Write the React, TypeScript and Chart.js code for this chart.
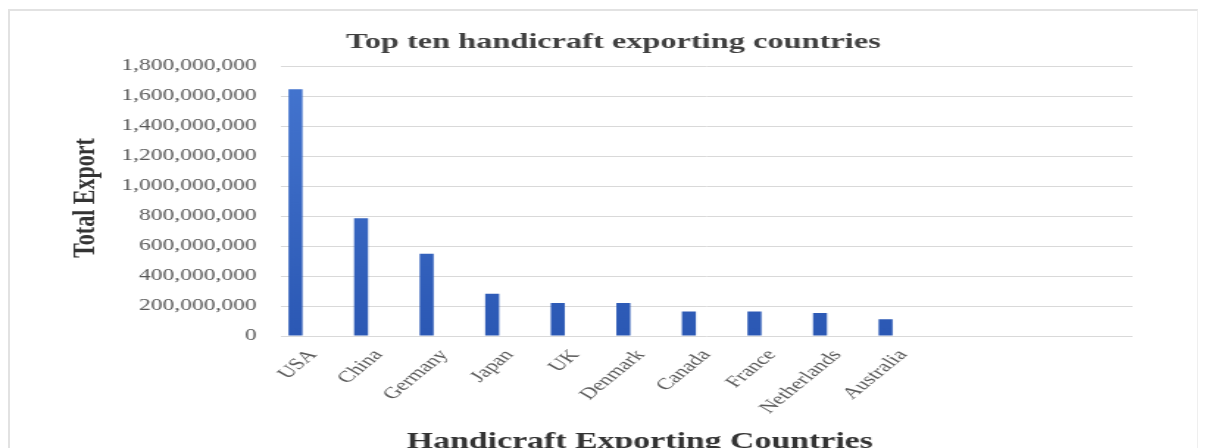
import React, { useEffect, useRef } from 'react';
import { Chart, registerables } from 'chart.js';

Chart.register(...registerables);

// ---- data ----
const countries = ['USA', 'China', 'Germany', 'Japan', 'UK', 'Denmark', 'Canada', 'France', 'Netherlands', 'Australia', '', '', ''];
const exportValues = [1645e6, 785e6, 548e6, 282e6, 220e6, 220e6, 163e6, 163e6, 153e6, 112e6, null, null, null];
const emptySeries = [null, null, null, null, null, null, null, null, null, null, null, null, null];
const yTickValues = [0, 200e6, 400e6, 600e6, 800e6, 1000e6, 1200e6, 1400e6, 1600e6, 1800e6];
const chartTitle = 'Top ten handicraft exporting countries';
const yAxisTitle = 'Total Export';
const xAxisTitle = 'Handicraft Exporting Countries';

// ---- layout (logical canvas stretched horizontally like the reference) ----
const PAGE_W = 1209;
const PAGE_H = 448;
const LOGICAL_W = 822;
const SERIF = "'Liberation Serif', 'Times New Roman', serif";

const titlesPlugin = {
  id: 'customTitles',
  afterDraw(chart: any) {
    const ctx = chart.ctx;
    ctx.save();
    ctx.fillStyle = '#404040';
    ctx.font = `bold 22px ${SERIF}`;
    ctx.textAlign = 'center';
    ctx.textBaseline = 'alphabetic';
    ctx.fillText(chartTitle, 417, 48);

    ctx.fillStyle = '#333333';
    ctx.font = `bold 23px ${SERIF}`;
    ctx.fillText(xAxisTitle, 435, 448);

    ctx.font = `bold 22px ${SERIF}`;
    ctx.translate(58, 198);
    ctx.rotate(-Math.PI / 2);
    ctx.textBaseline = 'middle';
    ctx.fillText(yAxisTitle, 0, 0);
    ctx.restore();
  },
};

export default function App() {
  const canvasRef = useRef<HTMLCanvasElement | null>(null);

  useEffect(() => {
    const canvas = canvasRef.current;
    if (!canvas) return;
    const barColor = (c: any) => {
      const area = c.chart.chartArea;
      if (!area) return '#3566c5';
      const g = c.chart.ctx.createLinearGradient(0, area.top, 0, area.bottom);
      g.addColorStop(0, '#4576d0');
      g.addColorStop(1, '#2b58b4');
      return g;
    };
    const chart = new Chart(canvas, {
      type: 'bar',
      data: {
        labels: countries,
        datasets: [
          { label: 'Total Export', data: exportValues as any, backgroundColor: barColor, categoryPercentage: 0.8, barPercentage: 0.8 },
          { label: 'b', data: emptySeries as any, backgroundColor: '#3566c5', categoryPercentage: 0.8, barPercentage: 0.8 },
          { label: 'c', data: emptySeries as any, backgroundColor: '#3566c5', categoryPercentage: 0.8, barPercentage: 0.8 },
        ],
      },
      options: {
        responsive: false,
        animation: false,
        devicePixelRatio: 1,
        layout: { padding: { top: 66, left: 0, right: 52, bottom: 0 } },
        plugins: { legend: { display: false }, tooltip: { enabled: false }, title: { display: false } },
        scales: {
          x: {
            grid: { display: false },
            border: { display: false },
            afterFit: (s: any) => { s.height = PAGE_H - 336; },
            ticks: {
              autoSkip: false,
              minRotation: 50,
              maxRotation: 50,
              padding: 2,
              color: '#595959',
              font: { family: SERIF, size: 16 },
            },
          },
          y: {
            min: 0,
            max: 1800e6,
            afterFit: (s: any) => { s.width = 190.5; },
            afterBuildTicks: (s: any) => { s.ticks = yTickValues.map((v) => ({ value: v })); },
            border: { display: false },
            grid: { color: '#d9d9d9', lineWidth: 1, drawTicks: false },
            ticks: {
              padding: 16,
              color: '#595959',
              font: { family: SERIF, size: 16 },
              callback: (v: any) => Number(v).toLocaleString('en-US'),
            },
          },
        },
      },
      plugins: [titlesPlugin],
    });
    return () => chart.destroy();
  }, []);

  return (
    <div style={{ position: 'absolute', left: 0, top: 0, width: PAGE_W, height: PAGE_H, background: '#ffffff', overflow: 'hidden' }}>
      <div style={{ position: 'absolute', left: 8, top: 9, width: 1187, height: 460, borderTop: '2px solid #e2e2e2', borderLeft: '2px solid #e2e2e2', borderRight: '1px solid #efefef' }} />
      <canvas
        ref={canvasRef}
        width={LOGICAL_W}
        height={PAGE_H}
        style={{ position: 'absolute', left: 0, top: 0, width: PAGE_W + 'px', height: PAGE_H + 'px' }}
      />
    </div>
  );
}
